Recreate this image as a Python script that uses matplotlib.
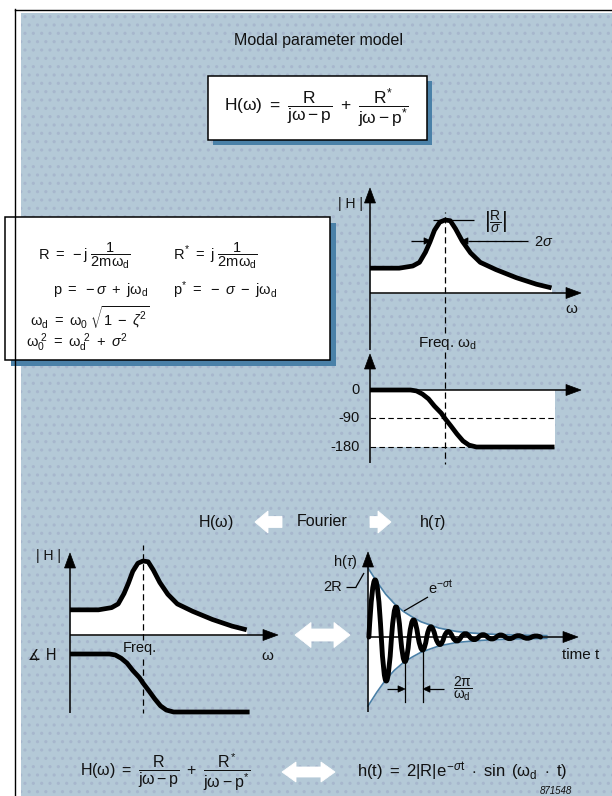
import matplotlib
matplotlib.use('Agg')
import matplotlib.pyplot as plt
from matplotlib.patches import Rectangle, Polygon, PathPatch
from matplotlib.path import Path
import numpy as np

plt.rcParams['font.family'] = ['Liberation Sans', 'DejaVu Sans']
plt.rcParams['mathtext.fontset'] = 'custom'
plt.rcParams['mathtext.rm'] = 'Liberation Sans'
plt.rcParams['mathtext.it'] = 'Liberation Sans'
plt.rcParams['mathtext.sf'] = 'Liberation Sans:italic'
plt.rcParams['mathtext.bf'] = 'Liberation Sans:bold'
plt.rcParams['hatch.linewidth'] = 1.1

# ---------------- data ----------------
title = 'Modal parameter model'
# magnitude |H| (normalised to peak) vs frequency w/wd
mag_w = [0, 0.39, 0.57, 0.66, 0.74, 0.80, 0.86, 0.93, 1.0, 1.07, 1.14, 1.23, 1.34, 1.47, 1.68, 1.95, 2.22, 2.42]
mag_h = [0.34, 0.34, 0.37, 0.42, 0.56, 0.70, 0.86, 0.97, 1.0, 0.99, 0.88, 0.71, 0.55, 0.42, 0.32, 0.21, 0.12, 0.07]
# phase (degrees) vs frequency w/wd
phase_w = [0, 0.54, 0.62, 0.70, 0.78, 0.86, 0.95, 1.0, 1.08, 1.16, 1.24, 1.32, 1.42, 2.46]
phase_deg = [0, 0, -3, -13, -28, -51, -73, -90, -114, -139, -161, -174, -180, -180]
phase_ticks = [0, -90, -180]
phase_tick_labels = ['0', '-90', '-180']
# impulse response h(t): time in periods, amplitude normalised to 2R
osc_zero_t = [0.05, 0.75, 1.33, 1.84, 2.33, 2.83, 3.32, 3.81, 4.30, 4.78, 5.26, 5.75, 6.25, 6.75, 7.25, 7.75, 8.25, 8.75, 9.25, 9.75]
osc_ext_t = [0.40, 1.02, 1.58, 2.09, 2.56, 3.09, 3.54, 4.07, 4.52, 5.02, 5.50, 6.00, 6.50, 7.00, 7.50, 8.00, 8.50, 9.00, 9.50]
osc_ext_h = [0.83, -0.64, 0.44, -0.36, 0.25, -0.19, 0.15, -0.11, 0.08, -0.06, 0.05, -0.04, 0.035, -0.03, 0.03, -0.025, 0.02, -0.02, 0.015]
env_t = [0, 0.25, 0.5, 0.75, 1.0, 1.5, 2.0, 2.5, 3.0, 4.0, 5.0, 6.0, 7.0, 8.0, 9.0, 10.1]
env_h = [1.0, 0.90, 0.80, 0.71, 0.62, 0.48, 0.37, 0.29, 0.22, 0.13, 0.08, 0.055, 0.04, 0.03, 0.025, 0.02]
period_idx = [3, 5]   # the two troughs that mark one period 2*pi/wd

# ---------------- figure ----------------
W, H = 612, 796
BG = '#b4c9d7'
DOTS = '#a7b7cd'
SHADOW = '#4a81a8'
ENV = '#4a7fa6'

fig = plt.figure(figsize=(W / 100, H / 100), dpi=100)
bg = fig.add_axes([0, 0, 1, 1], label='bg')
bg.set_xlim(0, W); bg.set_ylim(H, 0); bg.axis('off')

bg.add_patch(Rectangle((0, 0), W, H, fc='white', ec='none'))
bg.add_patch(Rectangle((21, 13), W - 21, H - 13, fc=BG, ec=DOTS, lw=0, hatch='..'))
bg.plot([15, 15], [9, H], color='black', lw=1.0)
bg.plot([15, W], [9.5, 9.5], color='black', lw=1.0)


def chart_axes(name, x0, xs, y0, ys):
    ax = fig.add_axes([0, 0, 1, 1], label=name, facecolor='none')
    ax.set_xlim(-x0 / xs, (W - x0) / xs)
    ax.set_ylim((y0 - H) / ys, y0 / ys)
    ax.axis('off')
    return ax


def box(x0, y0, x1, y1, sh):
    bg.add_patch(Rectangle((x0 + sh, y0 + sh), x1 - x0, y1 - y0, fc=SHADOW, ec='none'))
    bg.add_patch(Rectangle((x0, y0), x1 - x0, y1 - y0, fc='white', ec='black', lw=1.1))


def block_arrow(xl, xr, yc, hl, hhw, shw, left=True, right=True):
    pts = []
    if left:
        pts += [(xl, yc), (xl + hl, yc - hhw), (xl + hl, yc - shw)]
    else:
        pts += [(xl, yc + shw), (xl, yc - shw)]
    if right:
        pts += [(xr - hl, yc - shw), (xr - hl, yc - hhw), (xr, yc), (xr - hl, yc + hhw), (xr - hl, yc + shw)]
    else:
        pts += [(xr, yc - shw), (xr, yc + shw)]
    if left:
        pts += [(xl + hl, yc + shw), (xl + hl, yc + hhw)]
    bg.add_patch(Polygon(pts, closed=True, fc='white', ec='white', lw=0.6))


# boxes
box(208, 76, 427, 140, 5)
box(5, 217, 330, 360, 6)

# block arrows
block_arrow(255, 282, 522, 13, 11, 5.5, right=False)
block_arrow(370, 391, 522, 13, 11, 5.5, left=False)
block_arrow(295, 350, 635, 16, 12.5, 6)
block_arrow(282, 335, 772, 14, 10, 5)

# ---------------- charts ----------------
# top-right magnitude
a1 = chart_axes('mag1', 370, 75, 293, 73)
a1.fill_between(mag_w, 0, mag_h, color='white', lw=0)
a1.plot(mag_w, mag_h, color='black', lw=3.4, solid_capstyle='butt', solid_joinstyle='round')
a1.plot([1, 1], [(293 - 333) / 73, (293 - 212) / 73], color='black', lw=0.9, ls=(0, (5, 3)))

# top-right phase
a2 = chart_axes('ph1', 370, 75, 390, 57 / 180)
a2.fill_between([0, phase_w[-1]], phase_ticks[-1], phase_ticks[0], color='white', lw=0)
a2.plot([0, phase_w[-1]], [phase_ticks[1]] * 2, color='black', lw=0.8, ls=(0, (5, 3)))
a2.plot([0, 1.35], [phase_ticks[2]] * 2, color='black', lw=0.8, ls=(0, (5, 3)))
a2.plot(phase_w, phase_deg, color='black', lw=3.4, solid_capstyle='butt', solid_joinstyle='round')
a2.plot([1, 1], [(390 - 352) * 180 / 57, (390 - 464) * 180 / 57], color='black', lw=0.9, ls=(0, (5, 3)))

# bottom-left magnitude and phase
a3 = chart_axes('mag2', 70, 73, 635, 74)
a3.fill_between(mag_w, 0, mag_h, color='white', lw=0)
a3.plot(mag_w, mag_h, color='black', lw=3.4, solid_capstyle='butt', solid_joinstyle='round')
a3.plot([1, 1], [(635 - 640) / 74, (635 - 545) / 74], color='black', lw=0.9, ls=(0, (5, 3)))
a4 = chart_axes('ph2', 70, 73, 654, 58 / 180)
a4.plot(phase_w, phase_deg, color='black', lw=3.4, solid_capstyle='butt', solid_joinstyle='round')
a4.plot([1, 1], [(654 - 659) * 180 / 58, (654 - 713) * 180 / 58], color='black', lw=0.9, ls=(0, (5, 3)))

# bottom-right impulse response
a5 = chart_axes('imp', 368, 17.7, 637, 69)
env_h_arr = np.array(env_h)
a5.fill_between(env_t, -env_h_arr, env_h_arr, color='white', lw=0)
a5.plot(env_t, env_h_arr, color=ENV, lw=1.2)
a5.plot(env_t, -env_h_arr, color=ENV, lw=1.2)
verts = [(osc_zero_t[0], 0)]
codes = [Path.MOVETO]
for i in range(len(osc_ext_t)):
    verts += [(osc_ext_t[i], 2 * osc_ext_h[i]), (osc_zero_t[i + 1], 0)]
    codes += [Path.CURVE3, Path.CURVE3]
a5.add_patch(PathPatch(Path(verts, codes), fill=False, ec='black', lw=3.5,
                       capstyle='round', joinstyle='round', zorder=5))
for k in period_idx:
    tk = osc_ext_t[k]
    a5.plot([tk, tk], [osc_ext_h[k] if osc_ext_h[k] < 0 else 0, (637 - 702) / 69], color='black', lw=0.9)

# ---------------- overlay: axes lines, arrows, labels ----------------
ov = fig.add_axes([0, 0, 1, 1], label='ov', facecolor='none')
ov.set_xlim(0, W); ov.set_ylim(H, 0); ov.axis('off')


def line(x0, y0, x1, y1, lw=1.1, color='black'):
    ov.plot([x0, x1], [y0, y1], color=color, lw=lw, solid_capstyle='butt')


def head(x, y, d, L=15, w=5.5):
    if d == 'up':
        pts = [(x, y), (x - w, y + L), (x + w, y + L)]
    elif d == 'right':
        pts = [(x, y), (x - L, y - w), (x - L, y + w)]
    else:
        pts = [(x, y), (x + L, y - w), (x + L, y + w)]
    ov.add_patch(Polygon(pts, closed=True, fc='black', ec='black', lw=0.5))


def T(x, y, s, size=9.5, ha='center', va='center', **kw):
    return ov.text(x, y, s, fontsize=size, ha=ha, va=va, color='#111111', **kw)


# top-right axes
line(370, 350, 370, 200); head(370, 188, 'up')
line(370, 293, 570, 293); head(581, 293, 'right')
line(370, 463, 370, 366); head(370, 354, 'up')
line(370, 390, 570, 390); head(581, 390, 'right')
# bottom-left axes
line(70, 713, 70, 565); head(70, 553, 'up')
line(70, 635, 266, 635); head(278, 635, 'right')
# bottom-right axes
line(368, 712, 368, 564); head(368, 552, 'up')
line(368, 637, 566, 637); head(578, 637, 'right')

# peak annotations top-right
line(433, 220, 474, 220, lw=0.9)
line(411, 241, 425, 241, lw=0.9); head(431, 241, 'right', L=7, w=3.2)
line(468, 241, 528, 241, lw=0.9); head(461, 241, 'left', L=7, w=3.2)

# period annotation bottom-right
line(387, 689, 400, 689, lw=0.9); head(405, 689, 'right', L=7, w=3.2)
line(428, 689, 444, 689, lw=0.9); head(423, 689, 'left', L=7, w=3.2)

# leader lines
line(346, 587, 356, 587, lw=0.9); line(356, 587, 364, 573, lw=0.9)
line(428, 597, 404, 611, lw=0.9)

# texts
T(318, 40, title, size=11.5)
T(316, 108, r'$H(\omega)\ =\ \dfrac{R}{j\omega - p}\ +\ \dfrac{R^{*}}{j\omega - p^{*}}$', size=12.5)

T(38, 256, r'$R\ =\ -j\ \dfrac{1}{2m\omega_d}$', ha='left', size=10.5)
T(173, 256, r'$R^{*}\ =\ j\ \dfrac{1}{2m\omega_d}$', ha='left', size=10.5)
T(53, 290, r'$p\ =\ -\mathsf{\sigma}\ +\ j\omega_d$', ha='left', size=10.5)
T(173, 290, r'$p^{*}\ =\ -\ \mathsf{\sigma}\ -\ j\omega_d$', ha='left', size=10.5)
T(30, 318, r'$\omega_d\ =\ \omega_0\ \sqrt{1\ -\ \mathsf{\zeta}^2}$', ha='left', size=10.5)
T(26, 343, r'$\omega_0^{\ 2}\ =\ \omega_d^{\ 2}\ +\ \mathsf{\sigma}^2$', ha='left', size=10.5)

T(350, 204, '| H |', size=10)
T(571, 309, 'ω', size=11)
T(448, 343, r'Freq. $\omega_d$', size=11)
T(496, 222, r'$\left|\dfrac{R}{\mathsf{\sigma}}\right|$', size=10)
T(534, 242, r'$2\mathsf{\sigma}$', ha='left', size=10.5)
for v, lab in zip(phase_ticks, phase_tick_labels):
    T(360, 390 + (-v) * 57 / 180, lab, ha='right', size=10.5)

T(216, 522, r'$H(\omega)$', size=11.5)
T(322, 522, 'Fourier', size=11.5)
T(432, 522, r'$h(\mathsf{\tau})$', size=11.5)

T(48, 556, '| H |', size=10)
T(42, 655, '∡ H', size=10.5, family=['DejaVu Sans'])
T(140, 648, 'Freq.', size=10.5)
T(267, 656, 'ω', size=11)

T(345, 562, r'$h(\mathsf{\tau})$', size=10.5)
T(333, 587, '2R', size=10.5)
T(441, 588, r'$e^{-\mathsf{\sigma} t}$', size=10.5)
T(581, 655, 'time t', size=11)
T(463, 689, r'$\dfrac{2\pi}{\omega_d}$', size=10)

T(80, 772, r'$H(\omega)\ =\ \dfrac{R}{j\omega - p}\ +\ \dfrac{R^{*}}{j\omega - p^{*}}$', ha='left', size=11.5)
T(357, 772, r'$h(t)\ =\ 2|R|e^{-\mathsf{\sigma} t}\ \cdot\ \sin\ (\omega_d\ \cdot\ t)$', ha='left', size=12)
T(556, 791, '871548', size=7, style='italic')

fig.savefig('out.png', dpi=100)
